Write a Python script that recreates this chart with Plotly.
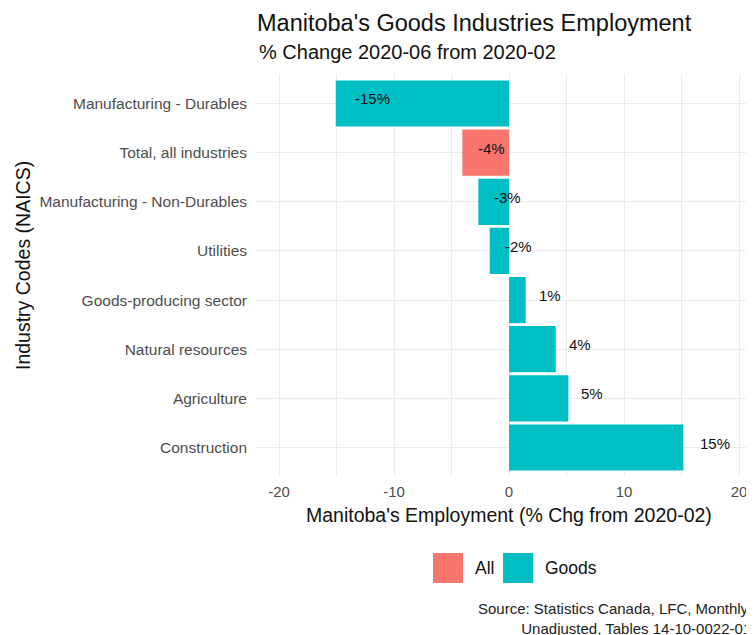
import plotly.graph_objects as go

# ---- data ----
industries = [
    "Manufacturing - Durables",
    "Total, all industries",
    "Manufacturing - Non-Durables",
    "Utilities",
    "Goods-producing sector",
    "Natural resources",
    "Agriculture",
    "Construction",
]
pct_change = [-15.07, -4.06, -2.67, -1.68, 1.45, 4.06, 5.16, 15.16]
groups = ["Goods", "All", "Goods", "Goods", "Goods", "Goods", "Goods", "Goods"]
legend_groups = ["All", "Goods"]
x_ticks = [-20, -10, 0, 10, 20]

# ---- style ----
FONT = "Liberation Sans, Arial, sans-serif"
colors = {"All": "#F8766D", "Goods": "#00BFC4"}
OFF = 8  # page body margin
W, H = 754 - OFF, 635 - OFF
PL, PR, PT, PB = 256 - OFF, 754 - OFF, 74 - OFF, 477 - OFF


def px_x(px):
    return (px - OFF - PL) / (PR - PL)


def px_y(py):
    return (PB - (py - OFF)) / (PB - PT)


CW = {"-": 0.333, "%": 0.889}


def text_w(s, size):
    return sum(CW.get(c, 0.556) for c in s) * size


fig = go.Figure()
fig.add_trace(go.Bar(
    x=pct_change,
    y=industries,
    orientation="h",
    width=0.94,
    marker=dict(color=[colors[g] for g in groups], line=dict(width=0)),
    showlegend=False,
    hoverinfo="x+y",
))

annotations = []
LBL = 15
for v, cat in zip(pct_change, industries):
    lab = f"{round(v)}%"
    annotations.append(dict(
        x=v, y=cat, xref="x", yref="y", text=lab, showarrow=False,
        xanchor="left", yanchor="middle", xshift=0.5 * text_w(lab, LBL), yshift=4.5,
        font=dict(family=FONT, size=LBL, color="#111111"),
    ))

# subtitle
annotations.append(dict(
    x=px_x(257), y=px_y(52), xref="paper", yref="paper",
    text="% Change 2020-06 from 2020-02", showarrow=False,
    xanchor="left", yanchor="middle",
    font=dict(family=FONT, size=20, color="#111111"),
))
# axis titles
annotations.append(dict(
    x=px_x(509), y=px_y(515), xref="paper", yref="paper",
    text="Manitoba's Employment (% Chg from 2020-02)", showarrow=False,
    xanchor="center", yanchor="middle",
    font=dict(family=FONT, size=19.5, color="#111111"),
))
annotations.append(dict(
    x=px_x(23), y=px_y(266), xref="paper", yref="paper",
    text="Industry Codes (NAICS)", showarrow=False, textangle=-90,
    xanchor="center", yanchor="middle",
    font=dict(family=FONT, size=19.5, color="#111111"),
))
# caption
annotations.append(dict(
    x=px_x(753), y=px_y(618), xref="paper", yref="paper",
    text="Source: Statistics Canada, LFC, Monthly,<br>Unadjusted, Tables 14-10-0022-01",
    showarrow=False, xanchor="right", yanchor="middle", align="right",
    font=dict(family=FONT, size=15, color="#222222"),
))

# manual legend (large keys like ggplot)
shapes = []
leg_key_left = {"All": 433, "Goods": 503}
for g in legend_groups:
    x0 = leg_key_left[g]
    shapes.append(dict(
        type="rect", xref="paper", yref="paper",
        x0=px_x(x0), x1=px_x(x0 + 30), y0=px_y(583), y1=px_y(553),
        fillcolor=colors[g], line=dict(width=0),
    ))
    annotations.append(dict(
        x=px_x(x0 + 40), y=px_y(568), xref="paper", yref="paper",
        text=g, showarrow=False, xanchor="left", yanchor="middle",
        font=dict(family=FONT, size=17.5, color="#111111"),
    ))

fig.update_layout(
    width=W, height=H,
    margin=dict(l=PL, r=W - PR, t=PT, b=H - PB, pad=0),
    paper_bgcolor="white", plot_bgcolor="white",
    title=dict(
        text="Manitoba's Goods Industries Employment",
        x=(257 - OFF) / W, xref="container", xanchor="left",
        y=1 - (23 - OFF) / H, yref="container", yanchor="middle",
        font=dict(family=FONT, size=23.5, color="#111111"),
    ),
    xaxis=dict(
        range=[-22, 21.3],
        tickvals=x_ticks,
        ticktext=[str(t) for t in x_ticks],
        showgrid=True, gridcolor="#EBEBEB", gridwidth=1.3,
        minor=dict(dtick=5, tick0=0, showgrid=True, gridcolor="#EBEBEB", gridwidth=0.7),
        zeroline=False, showline=False, ticks="",
        ticklabelstandoff=4,
        tickfont=dict(family=FONT, size=15, color="#4D4D4D"),
        fixedrange=True,
    ),
    yaxis=dict(
        categoryorder="array", categoryarray=industries[::-1],
        range=[-0.6, len(industries) - 0.4],
        showgrid=True, gridcolor="#EBEBEB", gridwidth=1.3,
        zeroline=False, showline=False, ticks="",
        ticklabelstandoff=8,
        tickfont=dict(family=FONT, size=15.5, color="#4D4D4D"),
        fixedrange=True,
    ),
    shapes=shapes,
    annotations=annotations,
    showlegend=False,
)

fig.write_html("out.html")
